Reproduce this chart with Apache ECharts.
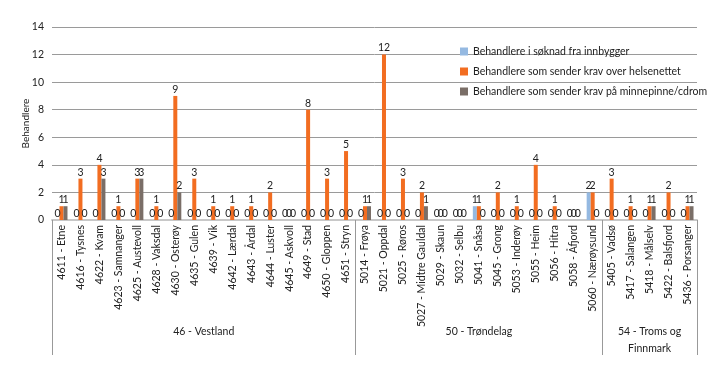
<!DOCTYPE html>
<html><head><meta charset="utf-8">
<script src="https://cdn.jsdelivr.net/npm/echarts@6/dist/echarts.min.js"></script>
<style>html,body{margin:0;padding:0;background:#fff}#c{width:719px;height:371px}</style>
</head><body><div id="c"></div>
<script>
var categories = ["4611 - Etne","4616 - Tysnes","4622 - Kvam","4623 - Samnanger","4625 - Austevoll","4628 - Vaksdal","4630 - Osterøy","4635 - Gulen","4639 - Vik","4642 - Lærdal","4643 - Årdal","4644 - Luster","4645 - Askvoll","4649 - Stad","4650 - Gloppen","4651 - Stryn",
"5014 - Frøya","5021 - Oppdal","5025 - Røros","5027 - Midtre Gauldal","5029 - Skaun","5032 - Selbu","5041 - Snåsa","5045 - Grong","5053 - Inderøy","5055 - Heim","5056 - Hitra","5058 - Åfjord","5060 - Nærøysund",
"5405 - Vadsø","5417 - Salangen","5418 - Målselv","5422 - Balsfjord","5436 - Porsanger"];
var soknad =   [0,0,0,0,0,0,0,0,0,0,0,0,0,0,0,0, 0,0,0,0,0,0,1,0,0,0,0,0,2, 0,0,0,0,0];
var helsenett =[1,3,4,1,3,1,9,3,1,1,1,2,0,8,3,5, 1,12,3,2,0,0,1,2,1,4,1,0,2, 3,1,1,2,1];
var minnepinne=[1,0,3,0,3,0,2,0,0,0,0,0,0,0,0,0, 1,0,0,1,0,0,0,0,0,0,0,0,0, 0,0,1,0,1];
var groupNames = ["46 - Vestland","50 - Trøndelag","54 - Troms og\nFinnmark"];
var groupSizes = [16,13,5];
var seriesNames = ["Behandlere i søknad fra innbygger","Behandlere som sender krav over helsenettet","Behandlere som sender krav på minnepinne/cdrom"];
var yMin = 0, yMax = 14, yStep = 2;

var bounds = [0], centers = [];
groupSizes.forEach(function(s,i){ var b = bounds[i]; centers.push(b + s/2); bounds.push(b + s); });

var font = 'Lato, "Liberation Sans", sans-serif';
var colors = ['#95b9e1','#f26d21','#7a6e67'];
function mk(name, data, color){
  return {name:name, type:'bar', data:data, barWidth:4, barGap:'0%', xAxisIndex:0,
    itemStyle:{color:color},
    label:{show:true, position:'top', distance:1, fontSize:10.5, color:'#222', fontFamily:font}};
}
var chart = echarts.init(document.getElementById('c'));
chart.setOption({
  animation:false,
  textStyle:{fontFamily:font},
  grid:{left:52, right:22, top:27, bottom:151},
  legend:{orient:'vertical', left:455, top:41, itemWidth:8, itemHeight:8, itemGap:9,
    icon:'rect', textStyle:{fontSize:10.5, color:'#222', fontFamily:font}},
  yAxis:{type:'value', min:yMin, max:yMax, interval:yStep, name:'Behandlere', nameLocation:'middle', nameGap:21,
    nameMoveOverlap:false,
    nameTextStyle:{fontSize:10, color:'#222', fontFamily:font},
    axisLabel:{fontSize:10.5, color:'#222', margin:8, fontFamily:font},
    axisLine:{show:false}, axisTick:{show:false},
    splitLine:{lineStyle:{color:'#9a9a9a', width:1}}},
  xAxis:[
    {type:'category', data:categories, position:'bottom',
      axisLine:{lineStyle:{color:'#c8c8c8', width:2}}, axisTick:{show:false},
      axisLabel:{interval:0, rotate:90, fontSize:10.5, color:'#222', margin:5, fontFamily:font}},
    {type:'value', min:bounds[0], max:bounds[bounds.length-1], position:'bottom',
      axisLine:{show:false}, splitLine:{show:false},
      axisTick:{show:true, customValues:bounds, length:135, lineStyle:{color:'#999', width:1}},
      axisLabel:{show:true, customValues:centers, margin:103, fontSize:10.5, color:'#222', lineHeight:17, fontFamily:font,
        formatter:function(v){ for (var i=0;i<centers.length;i++){ if (Math.abs(centers[i]-v)<1e-6) return groupNames[i]; } return ''; }}}
  ],
  series:[mk(seriesNames[0], soknad, colors[0]), mk(seriesNames[1], helsenett, colors[1]), mk(seriesNames[2], minnepinne, colors[2])]
});
</script></body></html>
